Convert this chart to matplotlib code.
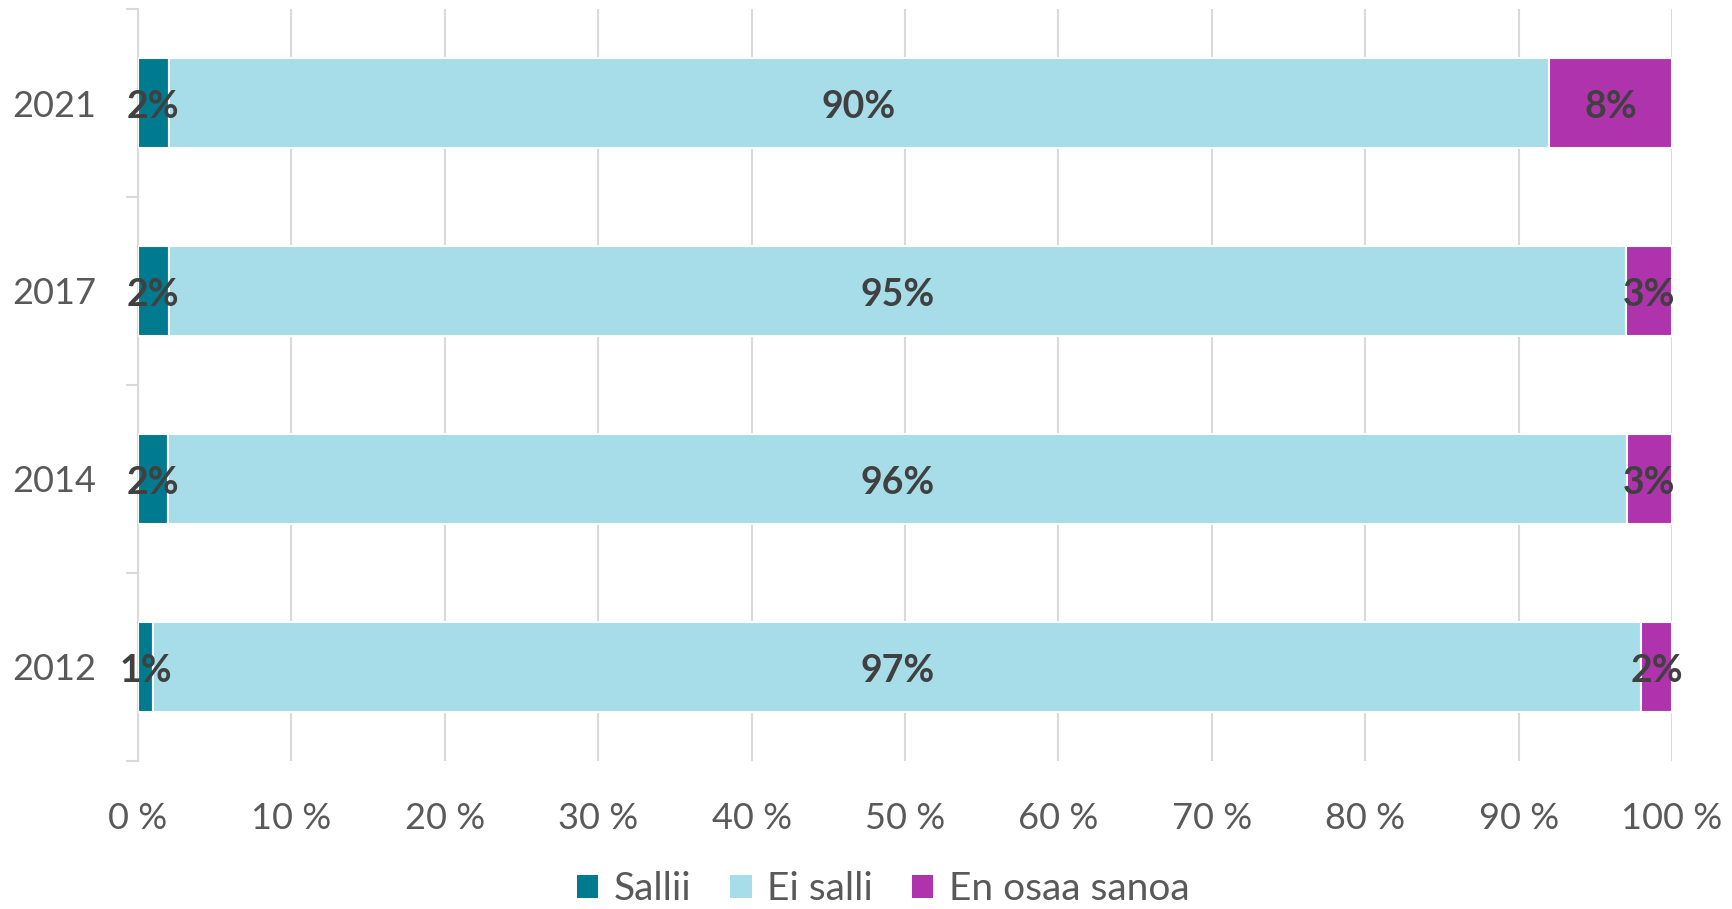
import matplotlib
matplotlib.use("Agg")
import numpy as np
import matplotlib.pyplot as plt
from matplotlib.patches import Patch

plt.rcParams["font.family"] = ["Lato", "DejaVu Sans"]

YEARS   = ["2012", "2014", "2017", "2021"]
SERIES  = ["Sallii", "Ei salli", "En osaa sanoa"]
SALLII  = [1, 2, 2, 2]
EI      = [97, 96, 95, 90]
EOS     = [2, 3, 3, 8]
COLORS  = ["#007A8E", "#A6DDE8", "#B033AE"]

TXT   = "#595959"
LBL   = "#404040"
GRID  = "#D9D9D9"

fig = plt.figure(figsize=(17.32, 9.09), dpi=100)
ax = fig.add_axes([0.0797, 0.163, 0.8857, 0.827])

raw = np.array([SALLII, EI, EOS], dtype=float)
share = raw / raw.sum(axis=0) * 100  # 100 % stacked
y = np.arange(len(YEARS))

left = np.zeros(len(YEARS))
for vals, rv, col, name in zip(share, raw, COLORS, SERIES):
    ax.barh(y, vals, left=left, height=0.48, color=col, edgecolor="white",
            linewidth=1.5, label=name, zorder=3)
    for yi, l, v, r in zip(y, left, vals, rv):
        ax.text(l + v / 2, yi - 0.02, f"{int(r)}%", ha="center", va="center",
                fontsize=27, fontweight="bold", color=LBL, zorder=4)
    left += vals

ax.set_xlim(0, 100)
ax.set_ylim(-0.5, len(YEARS) - 0.5)
ax.set_xticks(np.arange(0, 101, 10))
ax.set_xticklabels([f"{t} %" for t in range(0, 101, 10)])
ax.set_yticks(y)
ax.set_yticklabels(YEARS)
ax.set_yticks(np.arange(-0.5, len(YEARS), 1), minor=True)

ax.tick_params(axis="x", length=0, pad=30, labelsize=26, labelcolor=TXT)
ax.tick_params(axis="y", which="major", length=0, pad=30, labelsize=26, labelcolor=TXT)
ax.tick_params(axis="y", which="minor", length=9, width=1.5, color=GRID, direction="out")

ax.grid(True, axis="x", color=GRID, linewidth=1.5, zorder=0)
ax.set_axisbelow(True)
for s in ["top", "right", "bottom"]:
    ax.spines[s].set_visible(False)
ax.spines["left"].set_color(GRID)
ax.spines["left"].set_linewidth(1.5)

handles = [Patch(facecolor=c, label=n) for c, n in zip(COLORS, SERIES)]
fig.legend(handles=handles, loc="center", bbox_to_anchor=(0.51, 0.022),
           ncol=3, frameon=False, fontsize=28, labelcolor=TXT,
           handlelength=0.55, handleheight=0.55, handletextpad=0.4, columnspacing=1.0)

fig.savefig("out.png", dpi=100)
